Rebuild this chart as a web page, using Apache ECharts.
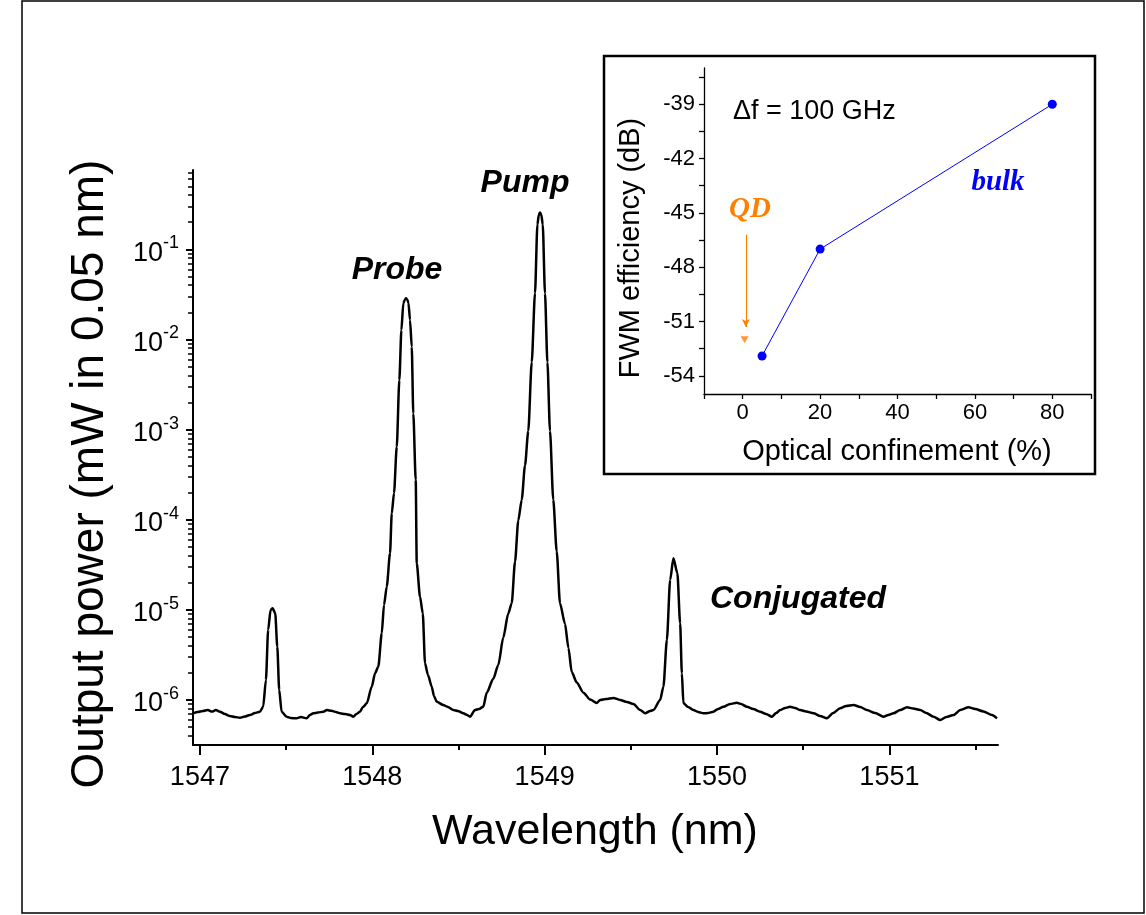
<!DOCTYPE html>
<html><head><meta charset="utf-8">
<script src="https://cdn.jsdelivr.net/npm/echarts@6/dist/echarts.min.js"></script>
<style>html,body{margin:0;padding:0;background:#fff}#c{width:1146px;height:915px}</style>
</head><body><div id="c"></div>
<script>
// ---- Main spectrum (wavelength nm, output power mW in 0.05 nm) ----
const wavelength = [
1546.961,1546.988,1547.017,1547.046,1547.070,1547.093,1547.116,1547.145,1547.174,1547.203,1547.232,1547.261,1547.290,1547.319,1547.348,1547.367,
1547.383,1547.396,1547.410,1547.422,1547.437,1547.449,1547.460,1547.474,
1547.503,1547.528,1547.561,1547.586,1547.619,1547.638,1547.658,1547.685,1547.716,1547.737,1547.764,1547.789,1547.813,1547.842,1547.871,1547.890,1547.908,1547.929,1547.946,1547.968,
1547.997,1548.016,1548.035,1548.055,1548.068,1548.084,1548.103,1548.113,1548.126,1548.142,1548.157,1548.169,1548.180,1548.188,1548.196,1548.204,
1548.210,1548.219,1548.229,1548.238,1548.252,1548.258,1548.277,1548.293,1548.306,1548.323,1548.345,1548.358,1548.374,1548.412,1548.439,1548.470,
1548.497,1548.528,1548.550,1548.567,1548.596,1548.619,1548.644,
1548.664,1548.702,1548.731,1548.760,1548.789,1548.809,1548.828,1548.847,1548.867,1548.886,1548.905,1548.925,1548.944,1548.958,1548.966,1548.973,1548.981,
1548.989,1549.002,1549.016,1549.031,1549.050,1549.070,1549.089,1549.118,1549.138,1549.157,1549.186,1549.225,1549.264,1549.302,1549.322,1549.356,1549.399,1549.438,1549.477,1549.515,1549.554,1549.583,1549.612,1549.631,1549.670,
1549.689,1549.709,1549.728,1549.747,1549.770,1549.786,1549.796,1549.805,
1549.832,1549.863,1549.890,1549.921,1549.948,1549.979,1550.006,1550.037,1550.076,1550.115,1550.140,1550.173,1550.210,1550.250,1550.285,1550.318,1550.343,1550.366,1550.395,1550.424,1550.453,1550.482,1550.517,1550.560,1550.598,1550.637,1550.674,1550.714,1550.749,1550.792,1550.831,1550.869,1550.918,1550.966,1550.993,1551.024,1551.063,1551.102,1551.138,1551.179,1551.214,1551.256,1551.295,1551.330,1551.372,1551.411,1551.459,1551.498,1551.546,1551.595,1551.624
];
const power = [
7.08e-7,7.32e-7,7.51e-7,7.70e-7,7.41e-7,7.70e-7,7.38e-7,6.95e-7,6.61e-7,6.44e-7,6.33e-7,6.52e-7,6.78e-7,7.13e-7,7.38e-7,8.38e-7,
1.66e-6,5.96e-6,9.93e-6,1.04e-5,9.12e-6,3.88e-6,1.29e-6,7.38e-7,
6.49e-7,6.28e-7,6.23e-7,6.44e-7,6.23e-7,6.78e-7,7.08e-7,7.22e-7,7.38e-7,7.70e-7,7.55e-7,7.32e-7,7.08e-7,6.95e-7,6.78e-7,6.49e-7,6.95e-7,7.38e-7,8.32e-7,9.14e-7,
1.40e-6,1.97e-6,2.33e-6,5.47e-6,1.13e-5,1.80e-5,4.23e-5,1.17e-4,1.96e-4,6.44e-4,3.54e-3,1.27e-2,2.52e-2,2.74e-2,2.86e-2,2.74e-2,
2.54e-2,1.64e-2,8.30e-3,1.51e-3,2.75e-4,3.27e-5,1.39e-5,9.12e-6,2.54e-6,1.89e-6,1.40e-6,1.10e-6,9.52e-7,8.75e-7,8.32e-7,7.70e-7,
7.51e-7,7.08e-7,6.78e-7,6.49e-7,7.70e-7,7.90e-7,8.38e-7,
1.20e-6,1.71e-6,2.43e-6,4.90e-6,9.08e-6,1.18e-5,3.40e-5,9.77e-5,1.66e-4,4.00e-4,9.62e-4,5.58e-3,3.25e-2,0.189,0.240,0.257,0.240,
0.189,3.25e-2,5.58e-3,9.62e-4,1.66e-4,4.43e-5,1.18e-5,6.98e-6,3.77e-6,2.03e-6,1.56e-6,1.20e-6,1.005e-6,9.21e-7,9.95e-7,1.02e-6,1.05e-6,9.95e-7,9.45e-7,8.98e-7,7.72e-7,7.08e-7,7.51e-7,7.70e-7,9.95e-7,
1.40e-6,4.61e-6,2.14e-5,3.72e-5,2.54e-5,7.06e-6,1.97e-6,9.14e-7,
8.32e-7,7.70e-7,7.32e-7,7.08e-7,7.13e-7,7.38e-7,7.90e-7,8.38e-7,8.98e-7,9.28e-7,8.98e-7,8.38e-7,7.90e-7,7.38e-7,6.95e-7,6.49e-7,7.13e-7,7.70e-7,8.11e-7,8.38e-7,8.11e-7,7.70e-7,7.41e-7,7.08e-7,6.61e-7,6.23e-7,7.13e-7,8.05e-7,8.53e-7,8.75e-7,8.32e-7,7.70e-7,7.13e-7,6.49e-7,6.78e-7,7.08e-7,7.70e-7,8.26e-7,8.01e-7,7.70e-7,7.13e-7,6.49e-7,5.97e-7,6.44e-7,6.78e-7,7.70e-7,8.26e-7,7.90e-7,7.41e-7,6.78e-7,6.23e-7
];
const xMajorTicks = [1547, 1548, 1549, 1550, 1551];
const xMinorTicks = [1547.5, 1548.5, 1549.5, 1550.5, 1551.5];
const yDecadeTicks = [1e-6, 1e-5, 1e-4, 1e-3, 1e-2, 1e-1];
const yMinorMultipliers = [2, 3, 4, 5, 6, 7, 8, 9];

// ---- Inset: FWM efficiency vs optical confinement ----
const confinement = [5, 20, 80];
const fwmBulk = [-52.9, -47.0, -39.0];
const qdConfinement = [0.5];
const qdFwm = [-52.0];
const qdArrowX = 0.8, qdArrowFrom = -46.2, qdArrowTo = -51.3;
const insetXTicks = [-10, 0, 10, 20, 30, 40, 50, 60, 70, 80, 90];
const insetXLabels = [0, 20, 40, 60, 80];
const insetYTicks = [-54, -52.5, -51, -49.5, -48, -46.5, -45, -43.5, -42, -40.5, -39, -37.5];
const insetYLabels = [-54, -51, -48, -45, -42, -39];

const Y_MIN = 3.15e-7, Y_MAX = 0.76;
const yMinorTicks = [];
for (let d = -7; d <= -1; d++) for (const k of yMinorMultipliers) {
  const v = k * Math.pow(10, d);
  if (v >= Y_MIN && v <= Y_MAX) yMinorTicks.push(v);
}

const SANS = '"Liberation Sans", Arial, sans-serif';
const SERIF = '"Liberation Serif", "Times New Roman", serif';
const BLUE = '#0000ff', ORANGE = '#ff8000';

const chart = echarts.init(document.getElementById('c'));
const mainGrid = {left: 193, top: 170, width: 805, height: 575};
const insetGrid = {left: 704, top: 68, width: 387, height: 326};
const plain = v => String(v);

chart.setOption({
  animation: false,
  backgroundColor: '#fff',
  grid: [
    Object.assign({}, mainGrid),
    Object.assign({}, mainGrid),
    Object.assign({}, insetGrid)
  ],
  xAxis: [
    {gridIndex: 0, type: 'value', min: 1546.96, max: 1551.63,
     axisLine: {onZero: false, lineStyle: {color: '#000', width: 2}},
     axisTick: {customValues: xMajorTicks, length: 10, lineStyle: {color: '#000', width: 2}},
     axisLabel: {customValues: xMajorTicks, formatter: plain, color: '#000', fontSize: 27, fontFamily: SANS, margin: 19},
     splitLine: {show: false}},
    {gridIndex: 1, type: 'value', min: 1546.96, max: 1551.63,
     axisLine: {show: false, onZero: false},
     axisTick: {customValues: xMinorTicks, length: 5, lineStyle: {color: '#000', width: 2}},
     axisLabel: {show: false}, splitLine: {show: false}},
    {gridIndex: 2, type: 'value', min: -10, max: 90,
     axisLine: {onZero: false, lineStyle: {color: '#000', width: 1.3}},
     axisTick: {customValues: insetXTicks, length: 5, lineStyle: {color: '#000', width: 1.3}},
     axisLabel: {customValues: insetXLabels, formatter: plain, color: '#000', fontSize: 22, fontFamily: SANS, margin: 8},
     splitLine: {show: false}}
  ],
  yAxis: [
    {gridIndex: 0, type: 'log', logBase: 10, min: Y_MIN, max: Y_MAX,
     axisLine: {onZero: false, lineStyle: {color: '#000', width: 2}},
     axisTick: {customValues: yDecadeTicks, length: 7, lineStyle: {color: '#000', width: 2}},
     axisLabel: {customValues: yDecadeTicks, margin: 14, color: '#000',
       formatter: function (v) { return '{b|10}{s|' + Math.round(Math.log10(v)) + '}'; },
       rich: {
         b: {fontSize: 27, fontFamily: SANS, color: '#000', lineHeight: 30, padding: [8, 0, 0, 0]},
         s: {fontSize: 18, fontFamily: SANS, color: '#000', lineHeight: 18, verticalAlign: 'top'}
       }},
     splitLine: {show: false}},
    {gridIndex: 1, type: 'log', logBase: 10, min: Y_MIN, max: Y_MAX,
     axisLine: {show: false, onZero: false},
     axisTick: {customValues: yMinorTicks, length: 5, lineStyle: {color: '#000', width: 1.5}},
     axisLabel: {show: false}, splitLine: {show: false}},
    {gridIndex: 2, type: 'value', min: -55, max: -37,
     axisLine: {onZero: false, lineStyle: {color: '#000', width: 1.3}},
     axisTick: {customValues: insetYTicks, length: 5, lineStyle: {color: '#000', width: 1.3}},
     axisLabel: {customValues: insetYLabels, formatter: plain, color: '#000', fontSize: 22, fontFamily: SANS, margin: 9},
     splitLine: {show: false}}
  ],
  series: [
    {type: 'line', xAxisIndex: 0, yAxisIndex: 0, showSymbol: false, symbol: 'none',
     smooth: 0.25, smoothMonotone: 'x',
     lineStyle: {color: '#000', width: 2.5}, z: 3,
     data: wavelength.map((w, i) => [w, power[i]])},
    {type: 'line', xAxisIndex: 2, yAxisIndex: 2, symbol: 'circle', symbolSize: 9,
     itemStyle: {color: BLUE}, lineStyle: {color: BLUE, width: 1},
     data: confinement.map((c, i) => [c, fwmBulk[i]])},
    {type: 'scatter', xAxisIndex: 2, yAxisIndex: 2, symbol: 'triangle', symbolRotate: 180,
     symbolSize: [8, 7], itemStyle: {color: ORANGE},
     data: qdConfinement.map((c, i) => [c, qdFwm[i]]),
     markLine: {silent: true, symbol: ['none', 'arrow'], symbolSize: [6, 8],
       lineStyle: {color: ORANGE, width: 1.2, type: 'solid'}, label: {show: false},
       data: [[{coord: [qdArrowX, qdArrowFrom]}, {coord: [qdArrowX, qdArrowTo]}]]}}
  ],
  graphic: [
    {type: 'rect', shape: {x: 22, y: 1, width: 1122, height: 912}, style: {fill: 'none', stroke: '#000', lineWidth: 1.5}, silent: true},
    {type: 'rect', shape: {x: 604, y: 56, width: 491, height: 418}, style: {fill: 'none', stroke: '#000', lineWidth: 2.5}, silent: true},
    {type: 'text', x: 595, y: 832, style: {text: 'Wavelength (nm)', font: '43px ' + SANS, fill: '#000', align: 'center', verticalAlign: 'middle'}},
    {type: 'text', x: 90, y: 474, rotation: Math.PI / 2, style: {text: 'Output power (mW in 0.05 nm)', font: '46px ' + SANS, fill: '#000', align: 'center', verticalAlign: 'middle'}},
    {type: 'text', x: 397, y: 270, style: {text: 'Probe', font: 'italic bold 32px ' + SANS, fill: '#000', align: 'center', verticalAlign: 'middle'}},
    {type: 'text', x: 525, y: 183, style: {text: 'Pump', font: 'italic bold 32px ' + SANS, fill: '#000', align: 'center', verticalAlign: 'middle'}},
    {type: 'text', x: 798, y: 599, style: {text: 'Conjugated', font: 'italic bold 32px ' + SANS, fill: '#000', align: 'center', verticalAlign: 'middle'}},
    {type: 'text', x: 631, y: 248, rotation: Math.PI / 2, style: {text: 'FWM efficiency (dB)', font: '29px ' + SANS, fill: '#000', align: 'center', verticalAlign: 'middle'}},
    {type: 'text', x: 897, y: 452, style: {text: 'Optical confinement (%)', font: '29px ' + SANS, fill: '#000', align: 'center', verticalAlign: 'middle'}},
    {type: 'text', x: 733, y: 112, style: {text: '\u0394f = 100 GHz', font: '27px ' + SANS, fill: '#000', align: 'left', verticalAlign: 'middle'}},
    {type: 'text', x: 750, y: 210, style: {text: 'QD', font: 'italic bold 29px ' + SERIF, fill: ORANGE, align: 'center', verticalAlign: 'middle'}},
    {type: 'text', x: 998, y: 183, style: {text: 'bulk', font: 'italic bold 29px ' + SERIF, fill: BLUE, align: 'center', verticalAlign: 'middle'}}
  ]
});
</script></body></html>
